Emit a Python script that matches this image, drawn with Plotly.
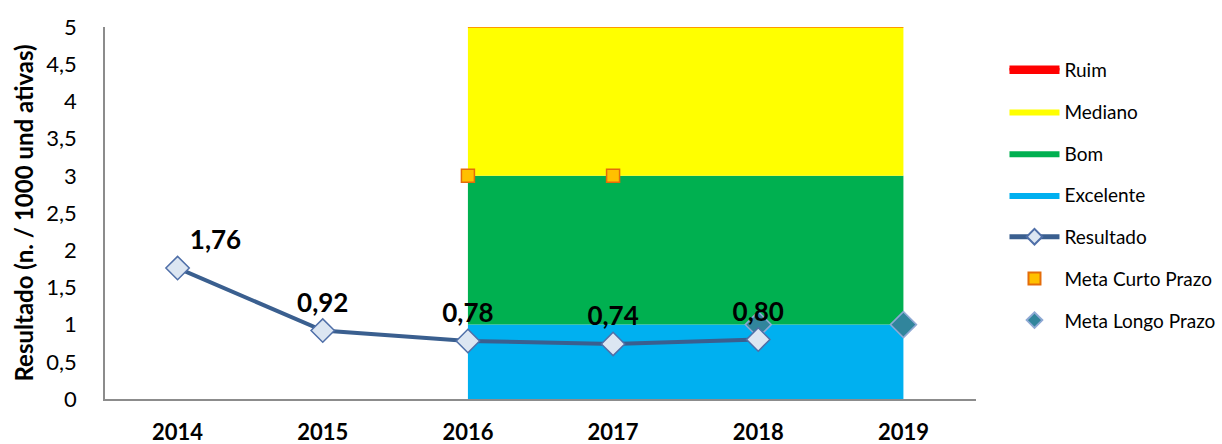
import plotly.graph_objects as go

anos = ["2014", "2015", "2016", "2017", "2018", "2019"]

# faixas de referencia (2016-2019), empilhadas
anos_faixa = ["2016", "2017", "2018", "2019"]
excelente = [1, 1, 1, 1]
bom = [2, 2, 2, 2]
mediano = [2, 2, 2, 2]
ruim = [0, 0, 0, 0]

anos_resultado = ["2014", "2015", "2016", "2017", "2018"]
resultado = [1.76, 0.92, 0.78, 0.74, 0.80]

anos_meta_curto = ["2016", "2017"]
meta_curto = [3, 3]

anos_meta_longo = ["2018", "2019"]
meta_longo = [1, 1]

fig = go.Figure()

faixas = [
    ("Excelente", excelente, "#00B0F0", 4),
    ("Bom", bom, "#00B050", 3),
    ("Mediano", mediano, "#FFFF00", 2),
    ("Ruim", ruim, "#FF0000", 1),
]
for nome, vals, cor, rank in faixas:
    fig.add_trace(go.Scatter(
        x=anos_faixa, y=vals, name=nome, stackgroup="faixas",
        mode="lines", line=dict(width=0.8 if nome == "Ruim" else 0, color=cor),
        fillcolor=cor, legendrank=rank, legendgroup=nome,
    ))

fig.add_trace(go.Scatter(
    x=anos_meta_curto, y=meta_curto, name="Meta Curto Prazo", mode="markers",
    marker=dict(symbol="square", size=13, color="#FFC000",
                line=dict(color="#E46C0A", width=1.5)),
    legendrank=6, legendgroup="mc",
))

fig.add_trace(go.Scatter(
    x=anos_meta_longo, y=meta_longo, name="Meta Longo Prazo", mode="markers",
    marker=dict(symbol="diamond", size=20, color="#31859C",
                line=dict(color="#8EA9D4", width=1.5)),
    legendrank=7, legendgroup="ml",
))

fig.add_trace(go.Scatter(
    x=anos_resultado, y=resultado, name="Resultado", mode="lines+markers+text",
    line=dict(color="#3A5F8F", width=4),
    marker=dict(symbol="diamond", size=18, color="#DCE6F2",
                line=dict(color="#4F6FA8", width=1.5)),
    texttemplate="%{y:.2f}",
    textposition=["top right", "top center", "top center", "top center", "top center"],
    textfont=dict(family="Lato", size=26, color="black", weight="bold"),
    legendrank=5, legendgroup="res",
))

fig.update_layout(
    width=1222, height=444,
    margin=dict(l=105, r=246, t=27, b=45),
    paper_bgcolor="white", plot_bgcolor="white",
    separators=",.",
    font=dict(family="Lato", color="black"),
    showlegend=True,
    legend=dict(
        xref="container", yref="container",
        x=0.822, xanchor="left", y=0.885, yanchor="top",
        font=dict(size=19, color="black"),
        traceorder="grouped", tracegroupgap=14, itemwidth=50,
        itemsizing="constant", maxheight=400,
        bgcolor="rgba(0,0,0,0)",
    ),
)

fig.update_xaxes(
    type="category", categoryorder="array", categoryarray=anos,
    range=[-0.5, 5.5], showgrid=False, zeroline=False,
    showline=True, linecolor="#8C8C8C", linewidth=1.5,
    ticks="", tickfont=dict(size=22, color="black", weight="bold"),
    ticklabelstandoff=13, automargin=False,
)
fig.update_yaxes(
    range=[0, 5], dtick=0.5, showgrid=False, zeroline=False,
    showline=True, linecolor="#8C8C8C", linewidth=1.5,
    ticks="", tickfont=dict(size=22, color="black"), ticklabelstandoff=22,
    title=dict(text="Resultado (n. / 1000 und ativas)",
               font=dict(size=24, color="black", weight="bold"), standoff=6),
    automargin=False,
)

# tira a margem padrao do body para a figura ocupar a janela inteira
fig.write_html("out.html", config={"displayModeBar": False},
               post_script="document.body.style.margin='0';")
